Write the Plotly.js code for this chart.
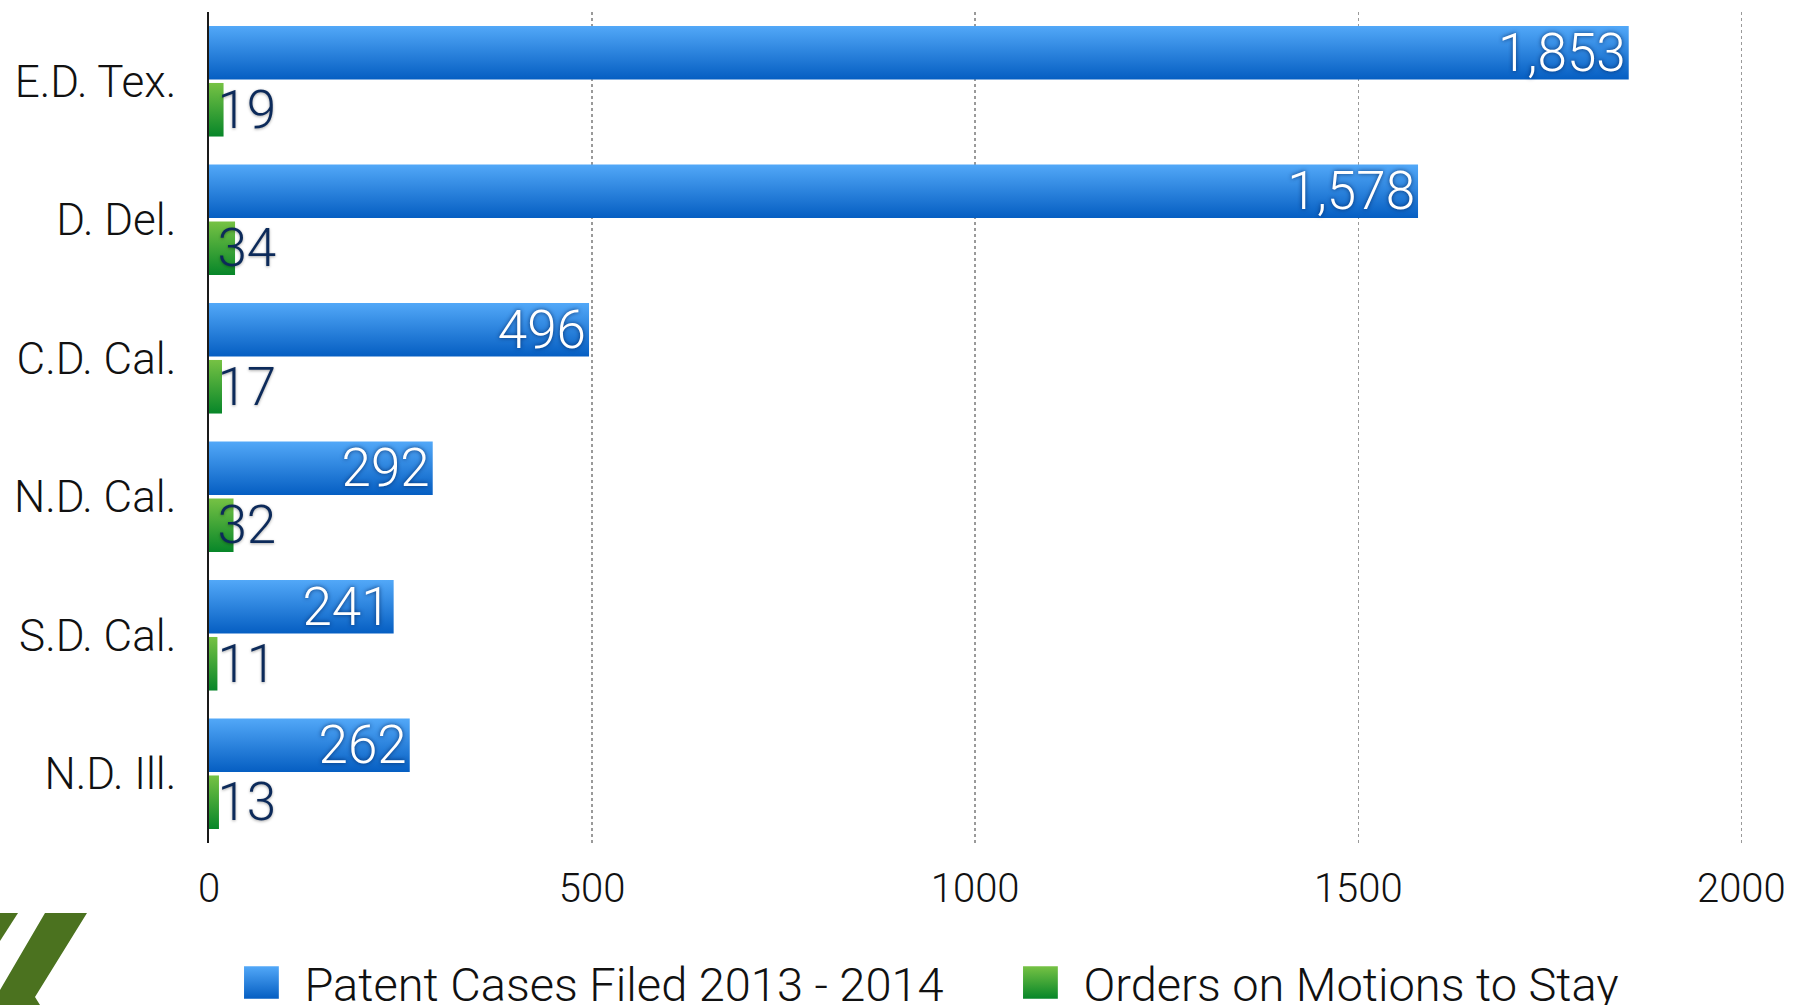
<!DOCTYPE html>
<html>
<head>
<meta charset="utf-8">
<script src="https://cdn.plot.ly/plotly-3.0.1.min.js"></script>
<style>
  html, body { margin: 0; padding: 0; background: #ffffff; }
  #chart { width: 1808px; height: 1005px; }
</style>
</head>
<body>
<div id="chart"></div>
<script>
// ---- data ----
const districts = ["E.D. Tex.", "D. Del.", "C.D. Cal.", "N.D. Cal.", "S.D. Cal.", "N.D. Ill."];
const patentCases = [1853, 1578, 496, 292, 241, 262];
const stayOrders = [19, 34, 17, 32, 11, 13];
const seriesNames = ["Patent Cases Filed 2013 - 2014", "Orders on Motions to Stay"];
const xTicks = [0, 500, 1000, 1500, 2000];

// ---- geometry helpers (layout only) ----
const W = 1808, H = 1005;
const M = { l: 209, r: 36, t: 12, b: 162 };
const PW = W - M.l - M.r, PH = H - M.t - M.b;
const px = x => (x - M.l) / PW;
const py = y => (H - M.b - y) / PH;
function pathFromPx(pts) {
  return pts.map((p, i) => (i ? 'L' : 'M') + px(p[0]).toFixed(5) + ',' + py(p[1]).toFixed(5)).join(' ') + ' Z';
}

const FONT = 'Roboto, "Helvetica Neue", Arial, sans-serif';

const traceBlue = {
  type: 'bar', orientation: 'h',
  name: seriesNames[0],
  y: districts, x: patentCases,
  marker: { color: '#1f7ad9', line: { width: 0 } },
  texttemplate: '%{x:,}',
  textposition: 'inside', insidetextanchor: 'end', constraintext: 'none', textangle: 0,
  insidetextfont: { family: FONT, size: 53, color: '#ffffff', weight: 300, shadow: '0px 0px 4px rgba(0,35,90,0.85)' },
  hoverinfo: 'none', cliponaxis: false
};
const traceGreen = {
  type: 'bar', orientation: 'h',
  name: seriesNames[1],
  y: districts, x: stayOrders,
  marker: { color: '#2b9a38', line: { width: 0 } },
  texttemplate: '\u200A%{x}',
  textposition: 'inside', insidetextanchor: 'start', constraintext: 'none', textangle: 0,
  insidetextfont: { family: FONT, size: 53, color: '#0c2a5a', weight: 300, shadow: '0px 1px 3px rgba(0,0,0,0.35)' },
  hoverinfo: 'none', cliponaxis: false
};

const logoColor = '#4b721f';
const layout = {
  width: W, height: H,
  margin: M,
  paper_bgcolor: '#ffffff', plot_bgcolor: '#ffffff',
  barmode: 'group', bargap: 0.177, bargroupgap: 0.06,
  font: { family: FONT, color: '#000000', weight: 300 },
  xaxis: {
    range: [0, 2040], tickvals: xTicks, ticktext: xTicks.map(String),
    showgrid: true, gridcolor: '#9a9a9a', gridwidth: 1.5, griddash: 'dot',
    zeroline: false, showline: false, ticks: '',
    tickfont: { family: FONT, size: 40, color: '#111111', weight: 300 },
    ticklabelstandoff: 18, fixedrange: true
  },
  yaxis: {
    autorange: 'reversed', type: 'category',
    showgrid: false, zeroline: false,
    showline: true, linecolor: '#1a1a1a', linewidth: 2,
    ticks: '', ticklabelstandoff: 22,
    tickfont: { family: FONT, size: 44, color: '#111111', weight: 300 },
    fixedrange: true
  },
  showlegend: true,
  legend: {
    orientation: 'h', xref: 'container', yref: 'container',
    x: 0.1186, y: 0.022, xanchor: 'left', yanchor: 'middle',
    font: { family: FONT, size: 47, color: '#111111', weight: 300 },
    itemwidth: 80, entrywidth: 684, entrywidthmode: 'pixels',
    bgcolor: 'rgba(0,0,0,0)', borderwidth: 0,
    traceorder: 'normal', itemclick: false, itemdoubleclick: false
  },
  shapes: [
    { type: 'path', xref: 'paper', yref: 'paper', layer: 'above', line: { width: 0 }, fillcolor: logoColor,
      path: pathFromPx([[0, 913], [18, 913], [0, 941]]) },
    { type: 'path', xref: 'paper', yref: 'paper', layer: 'above', line: { width: 0 }, fillcolor: logoColor,
      path: pathFromPx([[45, 913], [87, 913], [35, 997], [40, 1005], [0, 1005], [0, 990]]) }
  ]
};

function addGradient(defs, id, top, bottom) {
  if (defs.querySelector('#' + id)) return;
  const ns = 'http://www.w3.org/2000/svg';
  const g = document.createElementNS(ns, 'linearGradient');
  g.setAttribute('id', id);
  g.setAttribute('x1', '0'); g.setAttribute('y1', '0');
  g.setAttribute('x2', '0'); g.setAttribute('y2', '1');
  [[0, top], [1, bottom]].forEach(([o, c]) => {
    const s = document.createElementNS(ns, 'stop');
    s.setAttribute('offset', o);
    s.setAttribute('stop-color', c);
    g.appendChild(s);
  });
  defs.appendChild(g);
}

const SYM_SX = 2.9, SYM_SY = 2.7;
function styleMarks(gd) {
  const svg = gd.querySelector('.main-svg');
  let defs = svg.querySelector('defs');
  if (!defs) { defs = document.createElementNS('http://www.w3.org/2000/svg', 'defs'); svg.insertBefore(defs, svg.firstChild); }
  addGradient(defs, 'gradBlue', '#52a8f8', '#055ec2');
  addGradient(defs, 'gradGreen', '#76c244', '#078629');
  const ids = ['gradBlue', 'gradGreen'];
  gd.querySelectorAll('.barlayer .trace').forEach((t, i) => {
    t.querySelectorAll('.point path').forEach(p => { p.style.fill = 'url(#' + ids[i] + ')'; });
  });
  gd.querySelectorAll('.legend .traces').forEach((t, i) => {
    const text = t.querySelector('.legendtext');
    t.querySelectorAll('.legendpoints path').forEach(p => {
      p.style.fill = 'url(#' + ids[i] + ')';
      p.setAttribute('transform', 'scale(' + SYM_SX + ',' + SYM_SY + ')');
      if (text) {
        const pr = p.getBoundingClientRect();
        const tr = text.getBoundingClientRect();
        const c = (pr.left + pr.right) / 2;
        const target = tr.left - 43;
        p.setAttribute('transform', 'translate(' + (target - c).toFixed(1) + ',0) scale(' + SYM_SX + ',' + SYM_SY + ')');
      }
    });
  });
  // let the enlarged legend symbols show fully
  gd.querySelectorAll('.legend [clip-path]').forEach(el => el.removeAttribute('clip-path'));
}

Plotly.newPlot('chart', [traceBlue, traceGreen], layout, { displayModeBar: false, staticPlot: true })
  .then(gd => { styleMarks(gd); gd.on && gd.on('plotly_afterplot', () => styleMarks(gd)); });
</script>
</body>
</html>
